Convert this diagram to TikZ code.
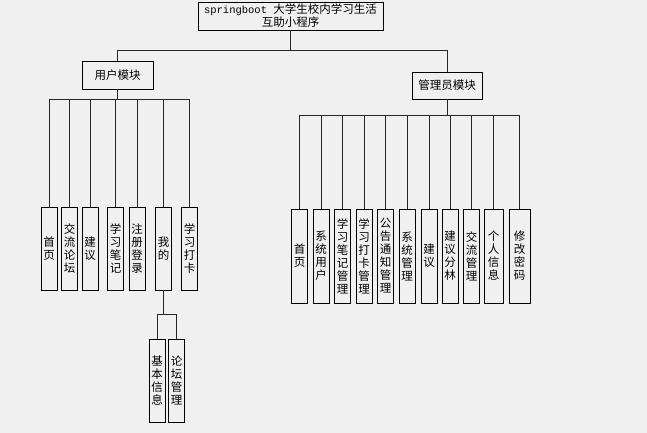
\documentclass[tikz,border=0pt]{standalone}
\usepackage{fontspec}
\setmainfont{Noto Sans CJK SC}
\newfontfamily\latinmono{Liberation Mono}

\begin{document}
\begin{tikzpicture}[x=1pt,y=-1pt,
    box/.style={draw=black,line width=0.9pt,fill=white!94!black,inner sep=1pt,
      font=\fontsize{11.5}{13}\selectfont},
    vbox/.style={box,align=center,minimum width=16pt,minimum height=83pt},
    abox/.style={vbox,minimum height=94pt},
    link/.style={draw=black!85,line width=0.9pt}]
      \fill[white!94!black] (0,0) rectangle (647,433);

      % top
      \node[box,align=center,minimum width=185pt,minimum height=28pt] (title)
        at (290.5,16) {{\latinmono\fontsize{10.5}{13}\selectfont springboot\ }大学生校内学习生活\\互助小程序};

      \node[box,minimum width=71pt,minimum height=28pt] (user) at (117.5,75) {用户模块};
      \node[box,minimum width=70pt,minimum height=27pt] (admin) at (447,85.5) {管理员模块};

      \coordinate (topbus) at (0,50);
      \coordinate (ubus) at (0,99);
      \coordinate (abus) at (0,115);
      \coordinate (mbus) at (0,314);

      \draw[link] (title.south) |- (user.north |- topbus) -- (user.north);
      \draw[link] (title.south) |- (admin.north |- topbus) -- (admin.north);

      % user module
      \node[vbox] (u1) at (49,248.5) {首\\页};
      \node[vbox] (u2) at (69.5,248.5) {交\\流\\论\\坛};
      \node[vbox] (u3) at (90,248.5) {建\\议};
      \node[vbox] (u4) at (115.5,248.5) {学\\习\\笔\\记};
      \node[vbox] (u5) at (137,248.5) {注\\册\\登\\录};
      \node[vbox] (u6) at (163.5,248.5) {我\\的};
      \node[vbox] (u7) at (189.5,248.5) {学\\习\\打\\卡};

      \draw[link] (user.south) |- (u1.north |- ubus) -- (u1.north);
      \draw[link] (user.south) |- (u2.north |- ubus) -- (u2.north);
      \draw[link] (user.south) |- (u3.north |- ubus) -- (u3.north);
      \draw[link] (user.south) |- (u4.north |- ubus) -- (u4.north);
      \draw[link] (user.south) |- (u5.north |- ubus) -- (u5.north);
      \draw[link] (user.south) |- (u6.north |- ubus) -- (u6.north);
      \draw[link] (user.south) |- (u7.north |- ubus) -- (u7.north);

      \node[vbox] (m1) at (157,380.5) {基\\本\\信\\息};
      \node[vbox] (m2) at (176.5,380.5) {论\\坛\\管\\理};

      \draw[link] (u6.south) |- (m1.north |- mbus) -- (m1.north);
      \draw[link] (u6.south) |- (m2.north |- mbus) -- (m2.north);

      % admin module
      \node[abox] (a1) at (299.5,256) {首\\页};
      \node[abox] (a2) at (321,256) {系\\统\\用\\户};
      \node[abox] (a3) at (342.5,256) {学\\习\\笔\\记\\管\\理};
      \node[abox] (a4) at (364,256) {学\\习\\打\\卡\\管\\理};
      \node[abox] (a5) at (385.5,256) {公\\告\\通\\知\\管\\理};
      \node[abox] (a6) at (407,256) {系\\统\\管\\理};
      \node[abox] (a7) at (429,256) {建\\议};
      \node[abox] (a8) at (450,256) {建\\议\\分\\林};
      \node[abox] (a9) at (471.5,256) {交\\流\\管\\理};
      \node[abox,minimum width=19pt] (a10) at (493.5,256) {个\\人\\信\\息};
      \node[abox,minimum width=21pt] (a11) at (519.5,256) {修\\改\\密\\码};

      \draw[link] (admin.south) |- (a1.north |- abus) -- (a1.north);
      \draw[link] (admin.south) |- (a2.north |- abus) -- (a2.north);
      \draw[link] (admin.south) |- (a3.north |- abus) -- (a3.north);
      \draw[link] (admin.south) |- (a4.north |- abus) -- (a4.north);
      \draw[link] (admin.south) |- (a5.north |- abus) -- (a5.north);
      \draw[link] (admin.south) |- (a6.north |- abus) -- (a6.north);
      \draw[link] (admin.south) |- (a7.north |- abus) -- (a7.north);
      \draw[link] (admin.south) |- (a8.north |- abus) -- (a8.north);
      \draw[link] (admin.south) |- (a9.north |- abus) -- (a9.north);
      \draw[link] (admin.south) |- (a10.north |- abus) -- (a10.north);
      \draw[link] (admin.south) |- (a11.north |- abus) -- (a11.north);
    \end{tikzpicture}
\end{document}
